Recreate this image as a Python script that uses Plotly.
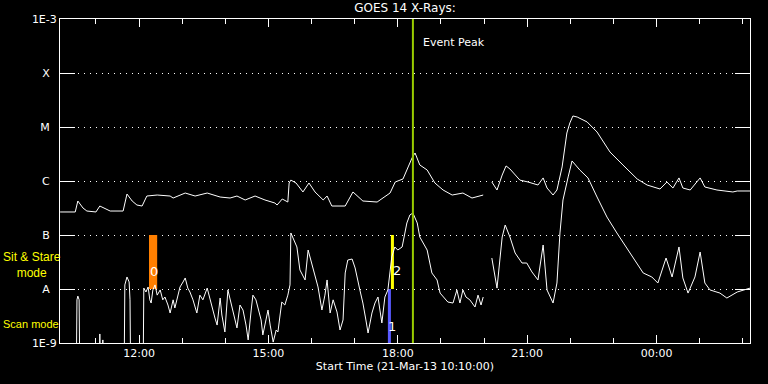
import math
import pandas as pd
import plotly.graph_objects as go

# ---------------- data ----------------
BASE = pd.Timestamp("2013-03-21 00:00")
X_START, X_END = 10 + 10/60, 26 + 10/60          # hours since 21-Mar 00:00

# long channel (1-8 A), hours since 21-Mar 00:00, flux W/m^2
long_hours = [10.17, 10.52, 10.58, 10.70, 10.79, 11.00, 11.09, 11.33, 11.63, 11.72, 11.84, 11.95,
              12.07, 12.18, 12.42, 12.72, 12.79, 13.07, 13.30, 13.58, 13.88, 14.11, 14.27, 14.46,
              14.69, 14.92, 15.15, 15.20, 15.32, 15.41, 15.45, 15.48, 15.52, 15.64, 15.80, 15.94,
              16.08, 16.27, 16.36, 16.47, 16.78, 16.96, 17.19, 17.52, 17.82, 17.94, 18.12, 18.24,
              18.33, 18.40, 18.51, 18.68, 18.86, 19.05, 19.26, 19.51, 19.72, 19.98, None,
              20.18, 20.30, 20.42, 20.51, 20.60, 20.83, 21.02, 21.25, 21.37, 21.46, 21.60, 21.69,
              21.81, 21.92, 21.99, 22.06, 22.16, 22.39, 22.62, 22.92, 23.22, 23.55, 23.78, 24.08,
              24.24, 24.38, 24.52, 24.61, 24.78, 25.01, 25.12, 25.40, 25.77, 25.87, 26.17]
long_flux = [2.67e-7, 2.67e-7, 4.26e-7, 3.16e-7, 2.78e-7, 2.67e-7, 3.44e-7, 2.78e-7, 2.78e-7, 5.74e-7, 4.26e-7, 3.59e-7,
             3.44e-7, 5.27e-7, 5.50e-7, 5.27e-7, 4.84e-7, 5.99e-7, 5.27e-7, 5.99e-7, 5.05e-7, 4.84e-7, 5.27e-7, 4.45e-7,
             5.27e-7, 4.45e-7, 3.91e-7, 3.59e-7, 4.64e-7, 4.26e-7, 4.08e-7, 9.18e-7, 1.04e-6, 9.18e-7, 6.26e-7, 9.18e-7,
             6.26e-7, 4.45e-7, 5.27e-7, 3.44e-7, 3.44e-7, 6.26e-7, 4.26e-7, 4.08e-7, 5.99e-7, 9.58e-7, 1.09e-6, 1.82e-6,
             2.67e-6, 3.30e-6, 1.98e-6, 1.60e-6, 9.18e-7, 6.81e-7, 5.50e-7, 5.99e-7, 4.84e-7, 5.50e-7, None,
             9.58e-7, 6.81e-7, 1.29e-6, 1.90e-6, 1.67e-6, 1.04e-6, 9.58e-7, 8.43e-7, 1.14e-6, 7.42e-7, 5.50e-7, 6.81e-7,
             1.82e-6, 7.74e-6, 1.19e-5, 1.60e-5, 1.53e-5, 1.24e-5, 8.08e-6, 3.44e-6, 1.98e-6, 1.09e-6, 8.43e-7, 7.11e-7,
             9.58e-7, 7.42e-7, 1.14e-6, 7.42e-7, 6.81e-7, 1.14e-6, 7.74e-7, 6.81e-7, 6.26e-7, 6.53e-7, 6.53e-7]

# short channel (0.5-4 A); 1e-10 = below the plotted floor
short_hours = [10.17, 10.54, 10.56, 10.58, 10.61, 10.63, 11.07, 11.09, 11.12, 11.16, 11.19, 11.65,
               11.67, 11.72, 11.77, 11.79, 11.81, 12.09, 12.11, 12.16, 12.21, 12.25, 12.28, 12.32,
               12.37, 12.42, 12.49, 12.55, 12.60, 12.67, 12.72, 12.79, 12.83, 12.90, 12.95, 13.02,
               13.07, 13.13, 13.18, 13.25, 13.34, 13.41, 13.48, 13.58, 13.65, 13.69, 13.76, 13.81,
               13.88, 13.92, 13.99, 14.06, 14.15, 14.22, 14.27, 14.34, 14.41, 14.48, 14.53, 14.60,
               14.64, 14.71, 14.76, 14.83, 14.87, 14.94, 14.99, 15.04, 15.11, 15.18, 15.22, 15.27,
               15.31, 15.38, 15.45, 15.50, 15.52, 15.59, 15.66, 15.73, 15.85, 15.92, 16.03, 16.15,
               16.24, 16.31, 16.36, 16.43, 16.50, 16.59, 16.66, 16.73, 16.78, 16.84, 16.94, 17.01,
               17.12, 17.19, 17.26, 17.31, 17.40, 17.47, 17.54, 17.63, 17.70, 17.77, 17.86, 17.93,
               18.00, 18.10, 18.21, 18.28, 18.35, 18.45, 18.51, 18.61, 18.68, 18.79, 18.91, 18.98,
               19.05, 19.16, 19.28, 19.37, 19.44, 19.51, 19.58, 19.67, 19.79, 19.86, 19.93, 19.98, None,
               20.18, 20.30, 20.42, 20.49, 20.60, 20.72, 20.88, 20.99, 21.11, 21.25, 21.37, 21.46,
               21.60, 21.69, 21.76, 21.83, 21.95, 22.04, 22.22, 22.41, 22.62, 22.85, 23.08, 23.31,
               23.55, 23.69, 23.89, 24.03, 24.22, 24.36, 24.52, 24.61, 24.73, 24.89, 25.01, 25.12,
               25.24, 25.47, 25.63, 25.87, 26.17]
short_flux = [1e-10, 1e-10, 6.3e-9, 7.4e-9, 6.3e-9, 1e-10, 1e-10, 1.47e-9, 1e-10, 1.14e-9, 1e-10, 1e-10,
              1.19e-8, 1.67e-8, 1.35e-8, 6.3e-9, 1e-10, 1e-10, 1.04e-8, 8.8e-9, 1.09e-8, 6.3e-9, 5.5e-9, 9.6e-9,
              1.19e-8, 7.7e-9, 9.6e-9, 6.3e-9, 7.1e-9, 5.05e-9, 3.59e-9, 6.3e-9, 4.45e-9, 7.7e-9, 1.09e-8, 1.35e-8,
              1.60e-8, 1.04e-8, 8.8e-9, 6.3e-9, 3.59e-9, 7.7e-9, 6.3e-9, 1.04e-8, 6.3e-9, 4.45e-9, 2.90e-9, 2.15e-9,
              6.8e-9, 3.30e-9, 1.60e-9, 9.6e-9, 5.05e-9, 2.90e-9, 1.90e-9, 5.05e-9, 4.08e-9, 2.15e-9, 1.14e-9, 4.08e-9,
              7.7e-9, 6.3e-9, 4.45e-9, 2.67e-9, 1.41e-9, 2.90e-9, 4.08e-9, 2.15e-9, 1.04e-9, 1.74e-9, 1.60e-9, 3.30e-9,
              5.74e-9, 5.05e-9, 7.7e-9, 1.19e-8, 1.09e-7, 8.08e-8, 6.0e-8, 2.25e-8, 1.47e-8, 5.27e-8, 2.55e-8, 1.09e-8,
              4.08e-9, 7.7e-9, 1.47e-8, 3.59e-9, 6.3e-9, 3.75e-9, 1.74e-9, 2.67e-9, 1.98e-8, 3.44e-8, 3.59e-8, 2.45e-8,
              9.6e-9, 5.5e-9, 2.67e-9, 1.53e-9, 3.59e-9, 5.5e-9, 7.1e-9, 2.35e-9, 7.1e-9, 9.6e-9, 3.91e-8, 6.0e-8,
              5.27e-8, 6.0e-8, 1.67e-7, 2.35e-7, 2.55e-7, 1.67e-7, 9.18e-8, 6.53e-8, 5.27e-8, 1.98e-8, 1.47e-8, 8.4e-9,
              7.1e-9, 5.74e-9, 5.5e-9, 9.6e-9, 5.5e-9, 9.6e-9, 7.1e-9, 6.3e-9, 4.64e-9, 7.7e-9, 5.05e-9, 7.1e-9, None,
              3.75e-8, 1.04e-8, 9.18e-8, 1.53e-7, 9.18e-8, 4.64e-8, 3.03e-8, 3.03e-8, 2.07e-8, 1.47e-8, 6.53e-8, 9.6e-9,
              5.5e-9, 1.29e-8, 1.09e-7, 4.45e-7, 1.19e-6, 2.35e-6, 1.60e-6, 1.14e-6, 5.05e-7, 2.15e-7, 1.09e-7, 5.74e-8,
              2.78e-8, 1.98e-8, 1.67e-8, 1.29e-8, 3.75e-8, 1.67e-8, 6.0e-8, 1.60e-8, 8.4e-9, 1.67e-8, 4.84e-8, 1.29e-8,
              9.6e-9, 8.4e-9, 6.8e-9, 8.8e-9, 1.04e-8]

# observation intervals (Sit & Stare / Scan)
obs_labels = ["0", "2", "1"]
obs_start = [12.23, 17.84, 17.77]
obs_end = [12.42, 17.91, 17.84]
obs_low = [1e-8, 1e-8, 1e-9]
obs_high = [1e-7, 1e-7, 1e-8]
obs_label_flux = [2.1e-8, 2.2e-8, 2.0e-9]
obs_colors = ["#ff7f00", "#ffff00", "#5a5aff"]

event_peak_hour = 18.35

class_flux = [1e-9, 1e-8, 1e-7, 1e-6, 1e-5, 1e-4, 1e-3]
class_labels = ["1E-9", "A\u00a0\u00a0", "B\u00a0\u00a0", "C\u00a0\u00a0", "M\u00a0\u00a0", "X\u00a0\u00a0", "1E-3"]


def to_time(hours):
    return [None if h is None else BASE + pd.Timedelta(hours=h) for h in hours]


FONT = "DejaVu Sans"
SIDE_FONT = "Liberation Sans"
fig = go.Figure()

for lab, t0, t1, lo, hi, col in zip(obs_labels, obs_start, obs_end, obs_low, obs_high, obs_colors):
    fig.add_trace(go.Scatter(
        x=to_time([t0, t1, t1, t0, t0]), y=[lo, lo, hi, hi, lo],
        fill="toself", fillcolor=col, mode="lines", line=dict(color=col, width=0),
        hoverinfo="skip", showlegend=False))

fig.add_trace(go.Scatter(x=to_time(long_hours), y=long_flux, mode="lines",
                         line=dict(color="white", width=1), connectgaps=False,
                         name="1-8 A", showlegend=False))
fig.add_trace(go.Scatter(x=to_time(short_hours), y=short_flux, mode="lines",
                         line=dict(color="white", width=1), connectgaps=False,
                         name="0.5-4 A", showlegend=False))

fig.add_trace(go.Scatter(x=to_time([event_peak_hour, event_peak_hour]), y=[1e-9, 1e-3],
                         mode="lines", line=dict(color="#99cc00", width=2),
                         hoverinfo="skip", showlegend=False))

# observation labels
shifts = [1, 5, 3]
for lab, t0, t1, fl, sh in zip(obs_labels, obs_start, obs_end, obs_label_flux, shifts):
    fig.add_annotation(x=BASE + pd.Timedelta(hours=(t0 + t1) / 2), y=math.log10(fl),
                       text=lab, showarrow=False, xshift=sh,
                       font=dict(family=FONT, size=13, color="white"))

fig.add_annotation(x=BASE + pd.Timedelta(hours=event_peak_hour), y=math.log10(3.6e-4),
                   text="Event Peak", showarrow=False, xanchor="left", xshift=8,
                   font=dict(family=FONT, size=11, color="white"))
fig.add_annotation(xref="paper", x=-58/690, y=math.log10(2.8e-8),
                   text="Sit & Stare<br>mode", showarrow=False, xanchor="left", align="center",
                   borderpad=0,
                   font=dict(family=SIDE_FONT, size=12, color="#ffff00"))
fig.add_annotation(xref="paper", x=-58/690, y=math.log10(2.25e-9),
                   text="Scan mode", showarrow=False, xanchor="left", borderpad=0,
                   font=dict(family=SIDE_FONT, size=11, color="#ffff00"))

fig.update_layout(
    width=768, height=384,
    margin=dict(l=60, r=18, t=19, b=41),
    paper_bgcolor="black", plot_bgcolor="black",
    font=dict(family=FONT, size=11, color="white"),
    title=dict(text="GOES 14 X-Rays:", x=0.5, xref="paper", y=1 - 8/384, yref="container",
               yanchor="middle", font=dict(family=FONT, size=12, color="white")),
    xaxis=dict(type="date",
               range=[BASE + pd.Timedelta(hours=X_START), BASE + pd.Timedelta(hours=X_END)],
               tick0="2013-03-21 12:00", dtick=3 * 3600000, tickformat="%H:%M",
               ticks="inside", ticklen=8, tickcolor="white", tickwidth=1,
               minor=dict(dtick=3600000, ticks="inside", ticklen=5, tickcolor="white", showgrid=False),
               showline=True, linecolor="white", linewidth=1, mirror="ticks",
               showgrid=False, zeroline=False,
               title=dict(text="Start Time (21-Mar-13 10:10:00)", standoff=2,
                          font=dict(family=FONT, size=11, color="white"))),
    yaxis=dict(type="log", range=[-9, -3],
               tickvals=class_flux, ticktext=class_labels,
               ticks="inside", ticklen=15, tickcolor="white", tickwidth=1,
               showline=True, linecolor="white", linewidth=1, mirror="ticks",
               showgrid=True, gridcolor="white", gridwidth=1, griddash="1px,5px",
               zeroline=False),
)

fig.write_html("out.html", config={"displayModeBar": False},
               post_script="document.body.style.margin='0px';document.body.style.background='black';")
